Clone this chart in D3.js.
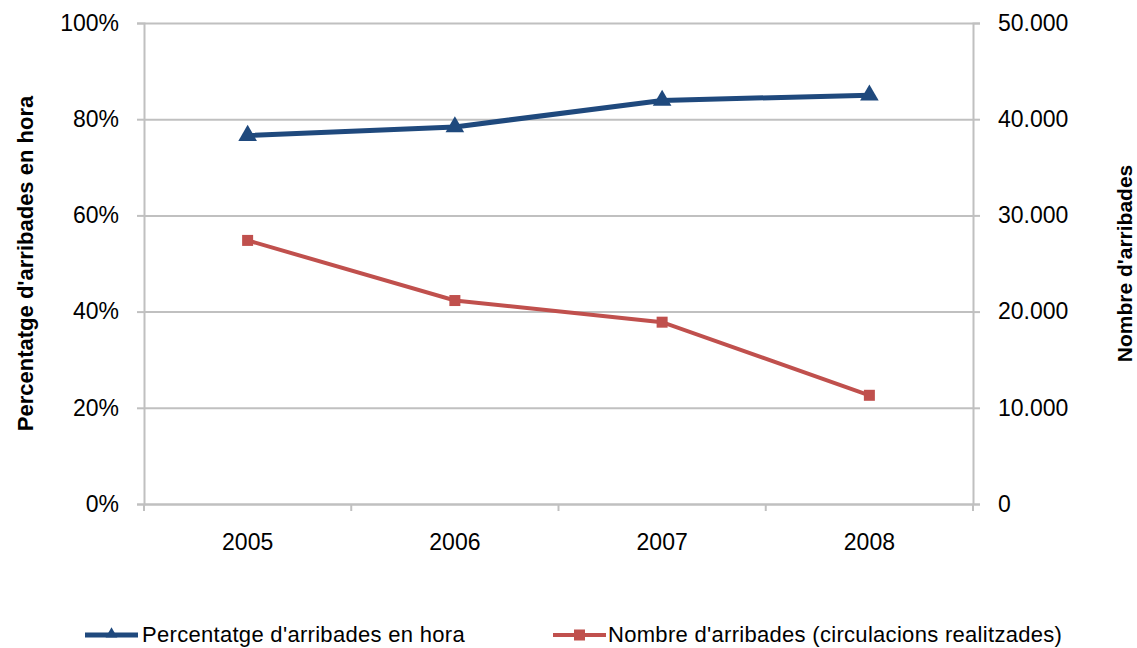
<!DOCTYPE html>
<meta charset="utf-8">
<script src="https://d3js.org/d3.v7.min.js"></script>
<style>
  body { margin: 0; background: #fff; }
  text { font-family: "Liberation Sans", Arial, sans-serif; fill: #000; }
</style>
<div id="chart"></div>
<script>
// data
var years = ["2005", "2006", "2007", "2008"];
var pctOnTime = [0.766, 0.784, 0.839, 0.850];
var arrivals = [27400, 21150, 18900, 11300];
var pctTicks = [0, 0.2, 0.4, 0.6, 0.8, 1.0];
var countTicks = [0, 10000, 20000, 30000, 40000, 50000];
var seriesNames = ["Percentatge d'arribades en hora", "Nombre d'arribades (circulacions realitzades)"];

var W = 1137, H = 648;
var margin = {top: 23, right: 164, bottom: 144, left: 144};
var width = W - margin.left - margin.right,
    height = H - margin.top - margin.bottom;

var svg = d3.select("#chart").append("svg")
    .attr("width", W).attr("height", H);
var g = svg.append("g")
    .attr("transform", "translate(" + margin.left + "," + margin.top + ")");

var x = d3.scaleBand().domain(years).range([0, width]);
var yL = d3.scaleLinear().domain([0, 1]).range([height, 0]);
var yR = d3.scaleLinear().domain([0, 50000]).range([height, 0]);

var grid = "#c0c0c0";

// gridlines
g.append("g").selectAll("line").data(pctTicks).enter().append("line")
  .attr("x1", 0).attr("x2", width)
  .attr("y1", function (d) { return yL(d) + 0.5; })
  .attr("y2", function (d) { return yL(d) + 0.5; })
  .style("stroke", grid).style("stroke-width", 2);

// left axis
var axL = g.append("g")
  .call(d3.axisLeft(yL).tickValues(pctTicks).tickFormat(d3.format(".0%")).tickSize(7).tickPadding(18));
// right axis
var axR = g.append("g").attr("transform", "translate(" + width + ",0)")
  .call(d3.axisRight(yR).tickValues(countTicks)
    .tickFormat(function (d) { return d === 0 ? "0" : d3.format(",")(d).replace(/,/g, "."); })
    .tickSize(7).tickPadding(18));
// bottom axis: ticks at band edges
var axB = g.append("g").attr("transform", "translate(0," + height + ")")
  .call(d3.axisBottom(x).tickSize(0).tickPadding(30));
axB.selectAll(".tick").append("line")
  .attr("x1", x.bandwidth() / 2).attr("x2", x.bandwidth() / 2)
  .attr("y1", 0).attr("y2", 7);
axB.append("line").attr("x1", 0).attr("x2", 0).attr("y1", 0).attr("y2", 7);

[axL, axR, axB].forEach(function (a) {
  a.select(".domain").style("stroke", grid).style("stroke-width", 2);
  a.selectAll("line").style("stroke", grid).style("stroke-width", 2);
  a.selectAll("text").style("font-size", "23px").style("font-family", "Liberation Sans, Arial, sans-serif");
});
axB.select(".domain").attr("d", "M0,0.5H" + width);

var cx = function (d, i) { return x(years[i]) + x.bandwidth() / 2; };

// red series (right axis)
g.append("path").datum(arrivals)
  .attr("d", d3.line().x(cx).y(function (d) { return yR(d); }))
  .style("fill", "none").style("stroke", "#c0504d").style("stroke-width", 4);
g.append("g").selectAll("rect").data(arrivals).enter().append("rect")
  .attr("x", function (d, i) { return cx(d, i) - 5.5; })
  .attr("y", function (d) { return yR(d) - 5.5; })
  .attr("width", 11).attr("height", 11)
  .style("fill", "#c0504d");

// blue series (left axis)
g.append("path").datum(pctOnTime)
  .attr("d", d3.line().x(cx).y(function (d) { return yL(d); }))
  .style("fill", "none").style("stroke", "#1f497d").style("stroke-width", 5);
var tri = d3.symbol().type(d3.symbolTriangle).size(150);
g.append("g").selectAll("path").data(pctOnTime).enter().append("path")
  .attr("d", tri)
  .attr("transform", function (d, i) { return "translate(" + cx(d, i) + "," + yL(d) + ")"; })
  .style("fill", "#1f497d");

// axis titles
svg.append("text")
  .attr("transform", "translate(33," + (margin.top + height / 2) + ") rotate(-90)")
  .attr("text-anchor", "middle")
  .style("font-size", "22px").style("font-weight", "bold")
  .text("Percentatge d'arribades en hora");
svg.append("text")
  .attr("transform", "translate(1132," + (margin.top + height / 2) + ") rotate(-90)")
  .attr("text-anchor", "middle")
  .style("font-size", "21px").style("font-weight", "bold")
  .text("Nombre d'arribades");

// legend
var legend = svg.append("g");
var lx = [85, 553];
var colors = ["#1f497d", "#c0504d"];
seriesNames.forEach(function (name, i) {
  var y0 = 635;
  legend.append("line")
    .attr("x1", lx[i]).attr("x2", lx[i] + 53).attr("y1", y0).attr("y2", y0)
    .style("stroke", colors[i]).style("stroke-width", i === 0 ? 5 : 4);
  if (i === 0) {
    legend.append("path").attr("d", d3.symbol().type(d3.symbolTriangle).size(60))
      .attr("transform", "translate(" + (lx[i] + 26.5) + "," + (y0 - 1) + ")")
      .style("fill", colors[i]);
  } else {
    legend.append("rect").attr("x", lx[i] + 21).attr("y", y0 - 5.5)
      .attr("width", 11).attr("height", 11).style("fill", colors[i]);
  }
  legend.append("text").attr("x", lx[i] + (i === 0 ? 57 : 55)).attr("y", y0 + 7)
    .style("font-size", "22px").style("letter-spacing", "0.3px")
    .text(name);
});
</script>
